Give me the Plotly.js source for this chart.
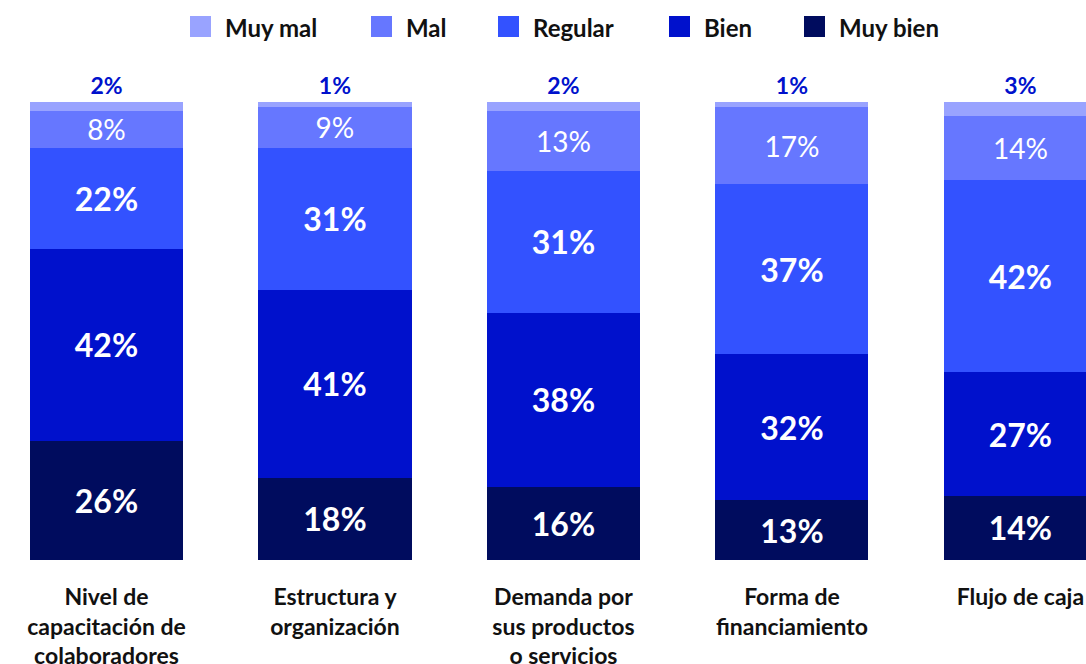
<!DOCTYPE html>
<html>
<head>
<meta charset="utf-8">
<script src="https://cdn.plot.ly/plotly-3.0.1.min.js"></script>
<style>html,body{margin:0;padding:0;background:#fff;}#chart{width:1086px;height:664px;}</style>
</head>
<body>
<div id="chart"></div>
<script>
const categories = [
  "Nivel de<br>capacitación de<br>colaboradores",
  "Estructura y<br>organización",
  "Demanda por<br>sus productos<br>o servicios",
  "Forma de<br>financiamiento",
  "Flujo de caja"
];
const seriesNames = ["Muy bien", "Bien", "Regular", "Mal", "Muy mal"];
const muyBien = [26, 18, 16, 13, 14];
const bien    = [42, 41, 38, 32, 27];
const regular = [22, 31, 31, 37, 42];
const mal     = [8, 9, 13, 17, 14];
const muyMal  = [2, 1, 2, 1, 3];
const colors = ["#000C5E", "#0011CC", "#3352FF", "#6677FF", "#99A3FF"];

const values = [muyBien, bien, regular, mal, muyMal];
const FONT = "Lato, 'Open Sans', sans-serif";

const traces = values.map((vals, i) => {
  const isTop = i === 4;
  const isMal = i === 3;
  return {
    type: "bar",
    name: seriesNames[i],
    x: categories,
    y: vals,
    text: vals.map(v => v + "%"),
    textposition: isTop ? "outside" : "inside",
    insidetextanchor: "middle",
    constraintext: "none",
    cliponaxis: false,
    textfont: isTop
      ? {family: FONT, size: 23, color: "#0011CC", weight: "bold"}
      : {family: FONT, size: isMal ? 28 : 32, color: "#ffffff", weight: isMal ? "normal" : "bold"},
    marker: {color: colors[i], line: {width: 0}},
    hoverinfo: "none",
    showlegend: false
  };
});

// custom legend (order as in reference)
const legendOrder = [4, 3, 2, 1, 0];
const legendLeftPx = [190, 371, 498, 669, 804];
const W = 1086, plotTop = 102, plotBottom = 560, H = plotBottom - plotTop;
const py = p => (plotBottom - p) / H;
const shapes = [], annotations = [];
legendOrder.forEach((si, k) => {
  const x0 = legendLeftPx[k];
  shapes.push({type: "rect", xref: "paper", yref: "paper",
    x0: x0 / W, x1: (x0 + 21) / W, y0: py(37), y1: py(16),
    fillcolor: colors[si], line: {width: 0}});
  annotations.push({xref: "paper", yref: "paper", x: (x0 + 33) / W, y: py(27),
    xanchor: "left", yanchor: "middle", showarrow: false, text: seriesNames[si],
    font: {family: FONT, size: 24, color: "#111111", weight: "bold"}});
});

const layout = {
  width: 1086, height: 664,
  margin: {l: 0, r: 0, t: plotTop, b: 664 - plotBottom, pad: 0},
  barmode: "stack",
  bargap: 0.33,
  paper_bgcolor: "#ffffff",
  plot_bgcolor: "#ffffff",
  showlegend: false,
  xaxis: {
    type: "category",
    range: [-0.466, 4.287],
    showgrid: false, zeroline: false, showline: false,
    ticks: "outside", ticklen: 16, tickcolor: "rgba(0,0,0,0)",
    ticklabeloverflow: "allow",
    tickfont: {family: FONT, size: 23, color: "#111111", weight: "bold"}
  },
  yaxis: {range: [0, 100], visible: false, showgrid: false, zeroline: false},
  shapes: shapes,
  annotations: annotations
};

Plotly.newPlot("chart", traces, layout, {displayModeBar: false, staticPlot: true});
</script>
</body>
</html>
